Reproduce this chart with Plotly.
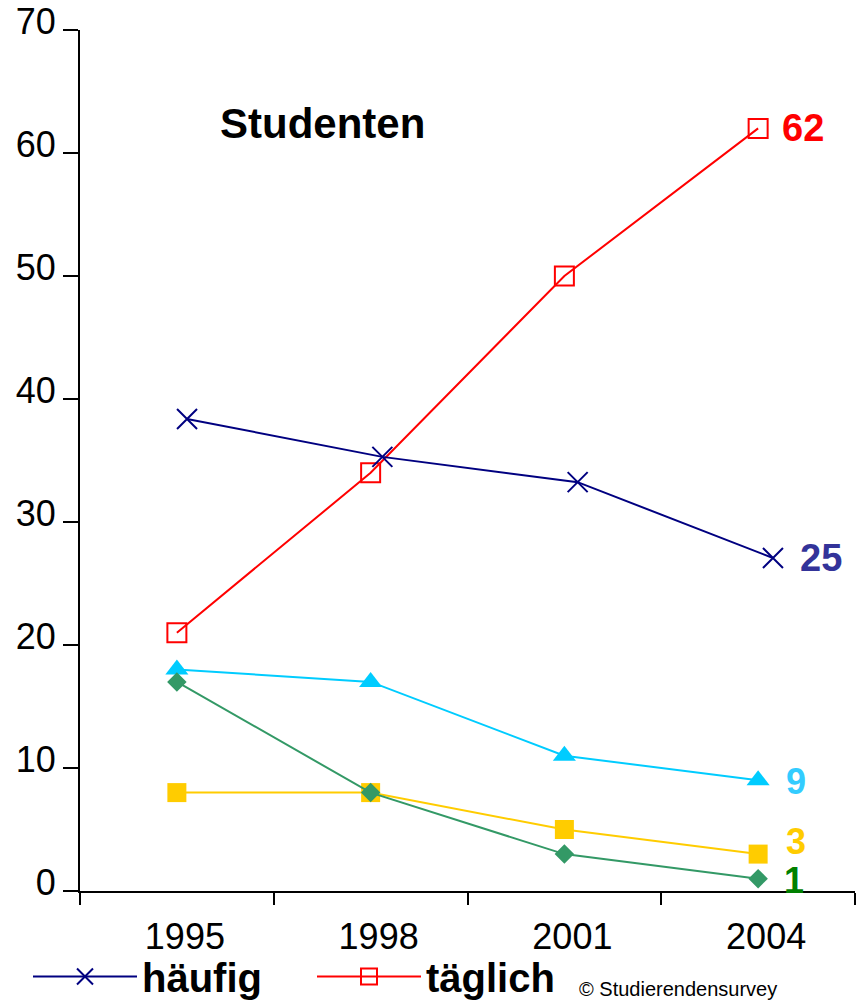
import plotly.graph_objects as go

# Survey years and shares (%) per usage frequency
years = ["1995", "1998", "2001", "2004"]
haeufig = [36, 33, 31, 25]      # häufig
taeglich = [21, 34, 50, 62]     # täglich
cyan_series = [18, 17, 11, 9]
yellow_series = [8, 8, 5, 3]
green_series = [17, 8, 3, 1]

y_ticks = [0, 10, 20, 30, 40, 50, 60, 70]

FONT = "Liberation Sans, Arial, sans-serif"

# plot-area geometry in pixels (used for paper-coordinate text placement)
W, H = 863, 1002
L, R, T, B = 80, 8, 30, 111
PW, PH = W - L - R, H - T - B


def px_to_paper(px, py):
    return (px - L) / PW, (H - B - py) / PH


fig = go.Figure()

fig.add_trace(go.Scatter(
    x=years, y=taeglich, name="<b>täglich</b>", mode="lines+markers",
    line=dict(color="#ff0000", width=2),
    marker=dict(symbol="square-open", size=19, color="#ff0000",
                line=dict(width=2, color="#ff0000")),
    xaxis="x", yaxis="y", legendrank=2,
))
fig.add_trace(go.Scatter(
    x=years, y=cyan_series, mode="lines+markers", showlegend=False,
    line=dict(color="#00ccff", width=2),
    marker=dict(symbol="triangle-up", size=20, color="#00ccff"),
))
fig.add_trace(go.Scatter(
    x=years, y=yellow_series, mode="lines+markers", showlegend=False,
    line=dict(color="#ffcc00", width=2),
    marker=dict(symbol="square", size=19, color="#ffcc00"),
))
fig.add_trace(go.Scatter(
    x=years, y=green_series, mode="lines+markers", showlegend=False,
    line=dict(color="#339966", width=2),
    marker=dict(symbol="diamond", size=15, color="#339966"),
))
# "häufig" comes from its own overlaid chart with a slightly different scale
fig.add_trace(go.Scatter(
    x=years, y=haeufig, name="<b>häufig</b>", mode="lines+markers",
    line=dict(color="#000080", width=2),
    marker=dict(symbol="x-thin", size=20, color="#000080",
                line=dict(width=2, color="#000080")),
    xaxis="x2", yaxis="y2", legendrank=1,
))

# end-of-line value labels (x given as category index of the last year)
last = len(years) - 1
end_labels = [
    (taeglich[-1], "#ff0000", 38, 45, 0, "x", "y"),
    (haeufig[-1], "#333399", 38, 48, 0, "x2", "y2"),
    (cyan_series[-1], "#33ccff", 36, 38, -1, "x", "y"),
    (yellow_series[-1], "#ffcc00", 36, 38, 13, "x", "y"),
    (green_series[-1], "#008000", 36, 36, -2, "x", "y"),
]
annotations = []
for val, col, fs, xs, ys, xr, yr in end_labels:
    annotations.append(dict(
        x=last, y=val, xref=xr, yref=yr, text=f"<b>{val}</b>",
        showarrow=False, xshift=xs, yshift=ys, borderpad=0,
        xanchor="center", yanchor="middle",
        font=dict(family=FONT, size=fs, color=col),
    ))

tx, ty = px_to_paper(322, 123)
annotations.append(dict(
    x=tx, y=ty, xref="paper", yref="paper", text="<b>Studenten</b>",
    showarrow=False, xanchor="center", yanchor="middle",
    font=dict(family=FONT, size=42, color="black"),
))
fx, fy = px_to_paper(578, 1001)
annotations.append(dict(
    x=fx, y=fy, xref="paper", yref="paper", text="© Studierendensurvey",
    showarrow=False, xanchor="left", yanchor="bottom", borderpad=0,
    font=dict(family=FONT, size=20, color="black"),
))

lx, ly = px_to_paper(28, 944)

fig.update_layout(
    width=W, height=H, autosize=False,
    margin=dict(l=L, r=R, t=T, b=B, pad=0, autoexpand=False),
    paper_bgcolor="white", plot_bgcolor="white",
    font=dict(family=FONT, color="black"),
    showlegend=True,
    legend=dict(
        orientation="h", x=lx, y=ly, xanchor="left", yanchor="top",
        font=dict(family=FONT, size=40, color="black"),
        itemwidth=104, entrywidth=165, entrywidthmode="pixels",
        bgcolor="rgba(0,0,0,0)", traceorder="normal",
    ),
    xaxis=dict(
        type="category", categoryorder="array", categoryarray=years,
        range=[-0.5, 3.5], tickson="boundaries", ticks="outside",
        ticklen=12, tickwidth=2, tickcolor="black",
        showline=True, linecolor="black", linewidth=2,
        showgrid=False, zeroline=False, ticklabelshift=8,
        ticklabelstandoff=13,
        tickfont=dict(family=FONT, size=36, color="black"),
    ),
    yaxis=dict(
        range=[0, 70], tickvals=y_ticks, ticks="outside",
        ticklen=15, tickwidth=2, tickcolor="black",
        showline=True, linecolor="black", linewidth=2,
        showgrid=False, zeroline=False, ticklabelshift=-9,
        tickfont=dict(family=FONT, size=36, color="black"),
    ),
    xaxis2=dict(
        type="category", categoryorder="array", categoryarray=years,
        overlaying="x", range=[-0.548, 3.42], visible=False,
    ),
    yaxis2=dict(
        overlaying="y", range=[-1.345, 66.77], visible=False,
    ),
    annotations=annotations,
)

fig.write_html("out.html")
